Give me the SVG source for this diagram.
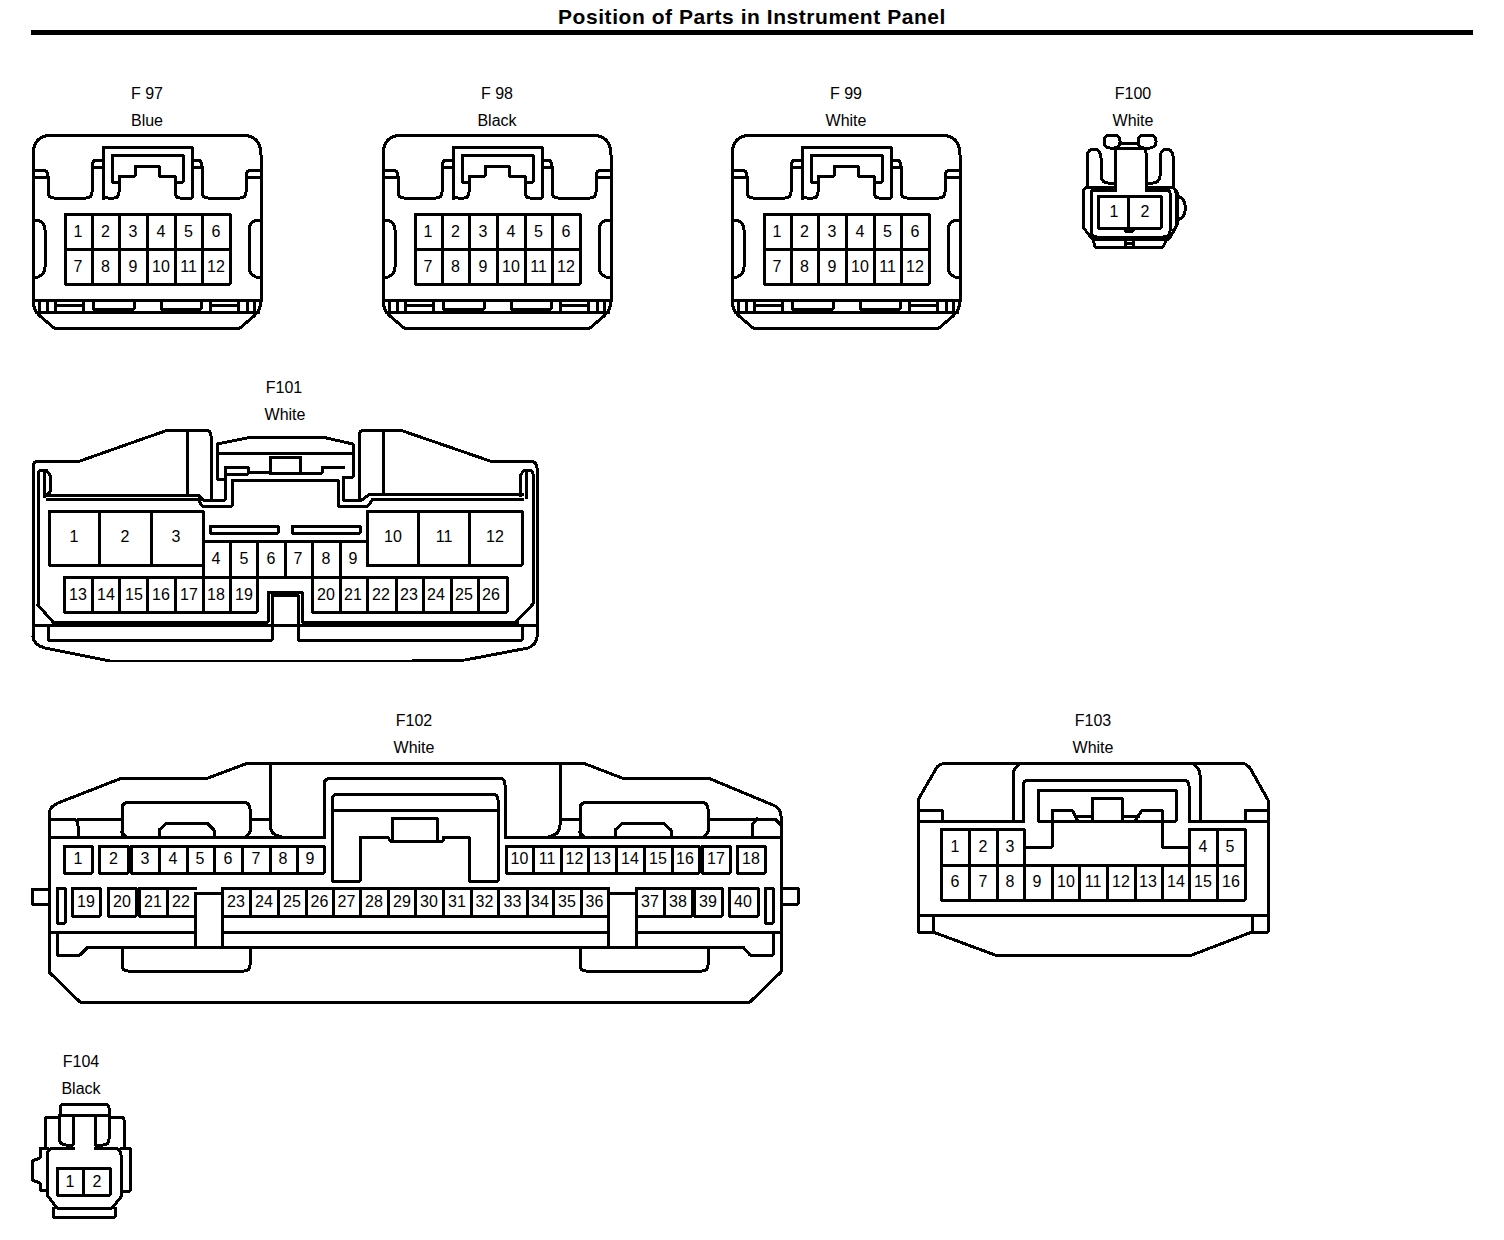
<svg xmlns="http://www.w3.org/2000/svg" width="1504" height="1240" viewBox="0 0 1504 1240">
<style>
text{font-family:"Liberation Sans",Arial,sans-serif;font-size:16px;text-anchor:middle;fill:#000}
.t{font-weight:bold;font-size:21px;letter-spacing:0.55px}
path,rect,line{fill:none;stroke:#000;stroke-width:3;stroke-linejoin:round;stroke-linecap:square;shape-rendering:crispEdges}
</style>
<defs>
<g id="body12">
<path d="M33,155Q33,135 53,135H241Q261,135 261,155V300Q261,310 254,316L240,328H54L40,316Q33,310 33,300Z"/>
<path d="M103,198V147H192V198Q192,198 187,198H180Q175,198 175,192V182H183V155H112V182H119V192Q119,198 114,198H108Q103,198 103,193"/>
<path d="M119,182V176H135V166H159V176H175V182"/>
<path d="M103,160H97Q92,160 92,166V192Q92,198 86,198H54Q48,198 48,192V176Q48,170 42,170H33"/>
<path d="M192,160H197Q202,160 202,166V192Q202,198 208,198H240Q246,198 246,192V176Q246,170 252,170H261"/>
<path d="M33,177H48M246,177H261M92,167H103M192,167H202"/>
<path d="M33,220H38Q45,223 45,230V267Q45,274 38,277H33"/>
<path d="M261,220H256Q249,223 249,230V267Q249,274 256,277H261"/>
<rect x="65" y="214" width="165" height="70"/>
<path d="M65,249H230M92,214V284M119.500,214V284M147,214V284M175,214V284M202.500,214V284"/>
<path d="M33,300H261M36,312H258"/>
<path d="M39,300V312M47,300V312M55,300V312M83,300V312M55,305H83M93,301V309H134V301M161,301V309H201V301M210,300V312M210,305H238M238,300V312M247,300V312M254,300V312"/>
</g>
</defs>

<g id="title">
<text class="t" x="752" y="24">Position of Parts in Instrument Panel</text>
<line x1="31" y1="32.500" x2="1473" y2="32.500" style="stroke-width:5;stroke-linecap:butt"/>
</g>

<g id="F97">
<text x="147" y="99">F 97</text><text x="147" y="126">Blue</text>
<use href="#body12"/>
<text x="78" y="237">1</text><text x="105.500" y="237">2</text><text x="133" y="237">3</text><text x="161" y="237">4</text><text x="188.500" y="237">5</text><text x="216" y="237">6</text>
<text x="78" y="272">7</text><text x="105.500" y="272">8</text><text x="133" y="272">9</text><text x="161" y="272">10</text><text x="188.500" y="272">11</text><text x="216" y="272">12</text>
</g>
<g id="F98">
<text x="497" y="99">F 98</text><text x="497" y="126">Black</text>
<use href="#body12" x="350"/>
<text x="428" y="237">1</text><text x="455.500" y="237">2</text><text x="483" y="237">3</text><text x="511" y="237">4</text><text x="538.500" y="237">5</text><text x="566" y="237">6</text>
<text x="428" y="272">7</text><text x="455.500" y="272">8</text><text x="483" y="272">9</text><text x="511" y="272">10</text><text x="538.500" y="272">11</text><text x="566" y="272">12</text>
</g>
<g id="F99">
<text x="846" y="99">F 99</text><text x="846" y="126">White</text>
<use href="#body12" x="699"/>
<text x="777" y="237">1</text><text x="804.500" y="237">2</text><text x="832" y="237">3</text><text x="860" y="237">4</text><text x="887.500" y="237">5</text><text x="915" y="237">6</text>
<text x="777" y="272">7</text><text x="804.500" y="272">8</text><text x="832" y="272">9</text><text x="860" y="272">10</text><text x="887.500" y="272">11</text><text x="915" y="272">12</text>
</g>

<g id="F100">
<text x="1133" y="99">F100</text><text x="1133" y="126">White</text>
<rect x="1104" y="135" width="16" height="13" rx="6"/>
<rect x="1138" y="135" width="18" height="13" rx="6"/>
<path d="M1120,143H1138"/>
<path d="M1115,187V153Q1115,148 1120,148H1141Q1146,148 1146,153V187"/>
<path d="M1087,187V156Q1088,149 1094,149Q1101,150 1101,158V176Q1102,183 1108,183H1115"/>
<path d="M1173,187V156Q1172,149 1166,149Q1160,150 1160,158V176Q1159,183 1153,183H1146"/>
<path d="M1115,187H1088Q1083,188 1083,193V227L1092,239H1169L1176,227V193Q1176,188 1171,187H1146"/>
<path d="M1115,190H1094Q1091,190 1091,193V231Q1091,237 1097,237H1163Q1170,237 1170,231V193Q1170,190 1167,190H1146"/>
<rect x="1098" y="196" width="63" height="32"/>
<path d="M1128,196V228M1125,228V231H1133V228"/>
<path d="M1093,239L1095,247H1163L1167,239M1125,239V247M1133,239V247M1125,243H1133"/>
<path d="M1173,188Q1177,190 1178,196Q1185,199 1185,205V211Q1185,217 1178,220Q1177,228 1173,230M1177,196V220"/>
<text x="1114" y="217">1</text><text x="1145" y="217">2</text>
</g>

<g id="F101">
<text x="284" y="393">F101</text><text x="285" y="420">White</text>
<path d="M33,637V467Q33,461 39,461H80L168,430H205Q211,430 211,436V500"/>
<path d="M187,430V495M383,430V494"/>
<path d="M359,500V436Q359,430 365,430H400L490,461H530Q537,461 537,468V637Q536,645 528,648L465,660L412,661H110L45,648Q34,645 33,637"/>
<path d="M44,495H198L203,500H225V479H217V444L252,437H322L353,444V477H343V500H362L370,494H522"/>
<path d="M47,499H198L202,506H232V480H338V506H368L373,499H522"/>
<path d="M217,453H353"/>
<path d="M225,477V467H248V474H227M248,472H270V457H300V473H322V467H343"/>
<path d="M270,457H300M270,473H300"/>
<path d="M38,605V474Q38,470 42,470H46L50,475V492L44,497V470M53,622L38,605"/>
<path d="M520,495V476L524,470H529Q533,470 533,474V604L517,621M526,471V497"/>
<path d="M53,622H268V592H302V622H517"/>
<path d="M33,625H537"/>
<path d="M48,625V640H272V595H298V640H522V625"/>
<rect x="210" y="526" width="68" height="7"/>
<rect x="292" y="526" width="68" height="7"/>
<rect x="49" y="511" width="154" height="54"/>
<path d="M99.500,511V565M151,511V565"/>
<rect x="367" y="511" width="155" height="54"/>
<path d="M418,511V565M469,511V565"/>
<path d="M203,565V577M203,541H367V565M230,541V577M257,541V577M285,541V577M312,541V577M340,541V577"/>
<path d="M64,577H507V612H312V577M64,577V612H257V577"/>
<path d="M92,577V612M119,577V612M147,577V612M175,577V612M203,577V612M230,577V612"/>
<path d="M340,577V612M367,577V612M396,577V612M423,577V612M451,577V612M478,577V612"/>
<text x="74" y="542">1</text><text x="125" y="542">2</text><text x="176" y="542">3</text>
<text x="393" y="542">10</text><text x="444" y="542">11</text><text x="495" y="542">12</text>
<text x="216" y="564">4</text><text x="244" y="564">5</text><text x="271" y="564">6</text><text x="298" y="564">7</text><text x="326" y="564">8</text><text x="353" y="564">9</text>
<text x="78" y="600">13</text><text x="106" y="600">14</text><text x="134" y="600">15</text><text x="161" y="600">16</text><text x="189" y="600">17</text><text x="216" y="600">18</text><text x="244" y="600">19</text>
<text x="326" y="600">20</text><text x="353" y="600">21</text><text x="381" y="600">22</text><text x="409" y="600">23</text><text x="436" y="600">24</text><text x="464" y="600">25</text><text x="491" y="600">26</text>
</g>

<g id="F102">
<text x="414" y="726">F102</text><text x="414" y="753">White</text>
<path d="M49,972V814Q49,807 58,803L122,778H208L248,763H583L622,778H708L773,805Q781,808 781,816V972L750,1002H80Z"/>
<path d="M49,889H32V904H49M781,888H798V904H781"/>
<path d="M49,837H324M505,837H781"/>
<path d="M270,765V825Q270,835 282,837M560,765V825Q560,835 548,837"/>
<path d="M324,837V785Q324,778 331,778H499Q505,778 505,785V837"/>
<path d="M360,837V881H332V800Q332,794 339,794H492Q498,794 498,800V881H469V837H443V841H390L388,837Z"/>
<path d="M332,810H498"/>
<path d="M392,841V818H437V841"/>
<path d="M122,836V809Q122,802 129,802H243Q250,802 250,809V832L246,837M122,832L126,837"/>
<path d="M580,836V809Q580,802 587,802H701Q708,802 708,809V832L704,837M580,832L584,837"/>
<path d="M159,836V830L167,823H207L214,830V836M615,836V830L623,823H663L671,830V836"/>
<path d="M49,819H73Q78,819 78,826V837M78,819H122M250,819H270M560,819H580M708,819H775L781,825M752,837V825L757,819"/>
<path d="M122,948V965Q122,971 128,971H244Q250,971 250,965V948M580,948V965Q580,971 586,971H702Q708,971 708,965V948"/>
<path d="M49,932H195M222,932H608M636,932H781"/>
<path d="M57,932V955H80L88,947H743L750,955H773V932"/>
<path d="M195,893V947M222,888V947M195,893H222M608,893V947M636,888V947M608,893H636"/>
<rect x="64" y="846" width="28" height="27"/>
<rect x="99" y="846" width="29" height="27"/>
<rect x="131" y="846" width="193" height="27"/>
<path d="M159,846V873M187,846V873M214,846V873M242,846V873M270,846V873M297,846V873"/>
<rect x="506" y="846" width="193" height="27"/>
<path d="M533,846V873M561,846V873M588,846V873M616,846V873M644,846V873M672,846V873"/>
<rect x="702" y="846" width="28" height="27"/>
<rect x="737" y="846" width="28" height="27"/>
<rect x="57" y="888" width="8" height="35"/>
<rect x="72" y="888" width="28" height="28"/>
<rect x="108" y="888" width="28" height="28"/>
<path d="M195,888H139V916H195M167,888V916"/>
<path d="M222,888H608M222,916H608M250,888V916M278,888V916M306,888V916M333,888V916M360,888V916M388,888V916M415,888V916M443,888V916M471,888V916M498,888V916M527,888V916M553,888V916M581,888V916M608,888V916"/>
<path d="M636,888H692V916H636M664,888V916"/>
<rect x="694" y="888" width="28" height="28"/>
<rect x="729" y="888" width="29" height="28"/>
<rect x="765" y="888" width="8" height="35"/>
<text x="78" y="864">1</text><text x="113.500" y="864">2</text><text x="145" y="864">3</text><text x="173" y="864">4</text><text x="200" y="864">5</text><text x="228" y="864">6</text><text x="256" y="864">7</text><text x="283" y="864">8</text><text x="310" y="864">9</text>
<text x="519.500" y="864">10</text><text x="547" y="864">11</text><text x="574.500" y="864">12</text><text x="602" y="864">13</text><text x="630" y="864">14</text><text x="658" y="864">15</text><text x="685" y="864">16</text><text x="716" y="864">17</text><text x="751" y="864">18</text>
<text x="86" y="907">19</text><text x="122" y="907">20</text><text x="153" y="907">21</text><text x="181" y="907">22</text>
<text x="236" y="907">23</text><text x="264" y="907">24</text><text x="292" y="907">25</text><text x="319.500" y="907">26</text><text x="346.500" y="907">27</text><text x="374" y="907">28</text><text x="402" y="907">29</text><text x="429" y="907">30</text><text x="457" y="907">31</text><text x="484.500" y="907">32</text><text x="512.500" y="907">33</text><text x="540" y="907">34</text><text x="567" y="907">35</text><text x="594.500" y="907">36</text>
<text x="650" y="907">37</text><text x="678" y="907">38</text><text x="708" y="907">39</text><text x="743" y="907">40</text>
</g>

<g id="F103">
<text x="1093" y="726">F103</text><text x="1093" y="753">White</text>
<path d="M918,800L937,767Q941,763 947,763H1240Q1246,763 1250,768L1268,800V932H1252L1192,955H995L933,932H918Z"/>
<path d="M918,821H1023M1189,821H1268M918,915H1268M933,915V932M1252,915V932"/>
<path d="M918,810H942V821M1268,810H1245V821"/>
<path d="M1013,821V775Q1013,768 1020,764M1200,821V775Q1200,768 1193,764"/>
<path d="M1023,821V786Q1023,780 1029,780H1183Q1189,780 1189,786V821"/>
<rect x="1038" y="790" width="138" height="31"/>
<path d="M1092,821V798H1122V821"/>
<path d="M1024,847H1052V810H1072L1078,821M1077,816H1092M1122,816H1138M1135,821L1142,810H1162V847H1189"/>
<path d="M1024,865V829H941V900H1245V829H1189V865M941,865H1245M969,829V900M997,829V900M1052,865V900M1079,865V900M1107,865V900M1135,865V900M1162,865V900M1024,865V900M1189,865V900M1217,829V900"/>
<text x="955" y="852">1</text><text x="983" y="852">2</text><text x="1010" y="852">3</text><text x="1203" y="852">4</text><text x="1230" y="852">5</text>
<text x="955" y="887">6</text><text x="983" y="887">7</text><text x="1010" y="887">8</text><text x="1037" y="887">9</text><text x="1066" y="887">10</text><text x="1093" y="887">11</text><text x="1121" y="887">12</text><text x="1148" y="887">13</text><text x="1176" y="887">14</text><text x="1203" y="887">15</text><text x="1231" y="887">16</text>
</g>

<g id="F104">
<text x="81" y="1067">F104</text><text x="81" y="1094">Black</text>
<path d="M60,1115V1108Q60,1104 64,1104H105Q109,1104 109,1108V1115Z"/>
<path d="M59,1115V1139Q60,1145 66,1145H73V1115M95,1115V1145H103Q109,1145 109,1139V1115"/>
<path d="M45,1147V1120Q45,1117 48,1117H59M109,1117H121Q124,1117 124,1120V1147"/>
<path d="M73,1148H53Q47,1149 47,1155V1195L57,1208H112L121,1197V1155Q121,1149 115,1148H95"/>
<path d="M47,1148H40V1158L32,1161V1180L40,1183V1190H47M121,1148H130V1191H121"/>
<rect x="57" y="1168" width="53" height="27"/>
<path d="M83.500,1168V1195"/>
<path d="M53,1208V1217H115V1208"/>
<text x="70" y="1187">1</text><text x="97" y="1187">2</text>
</g>
</svg>
